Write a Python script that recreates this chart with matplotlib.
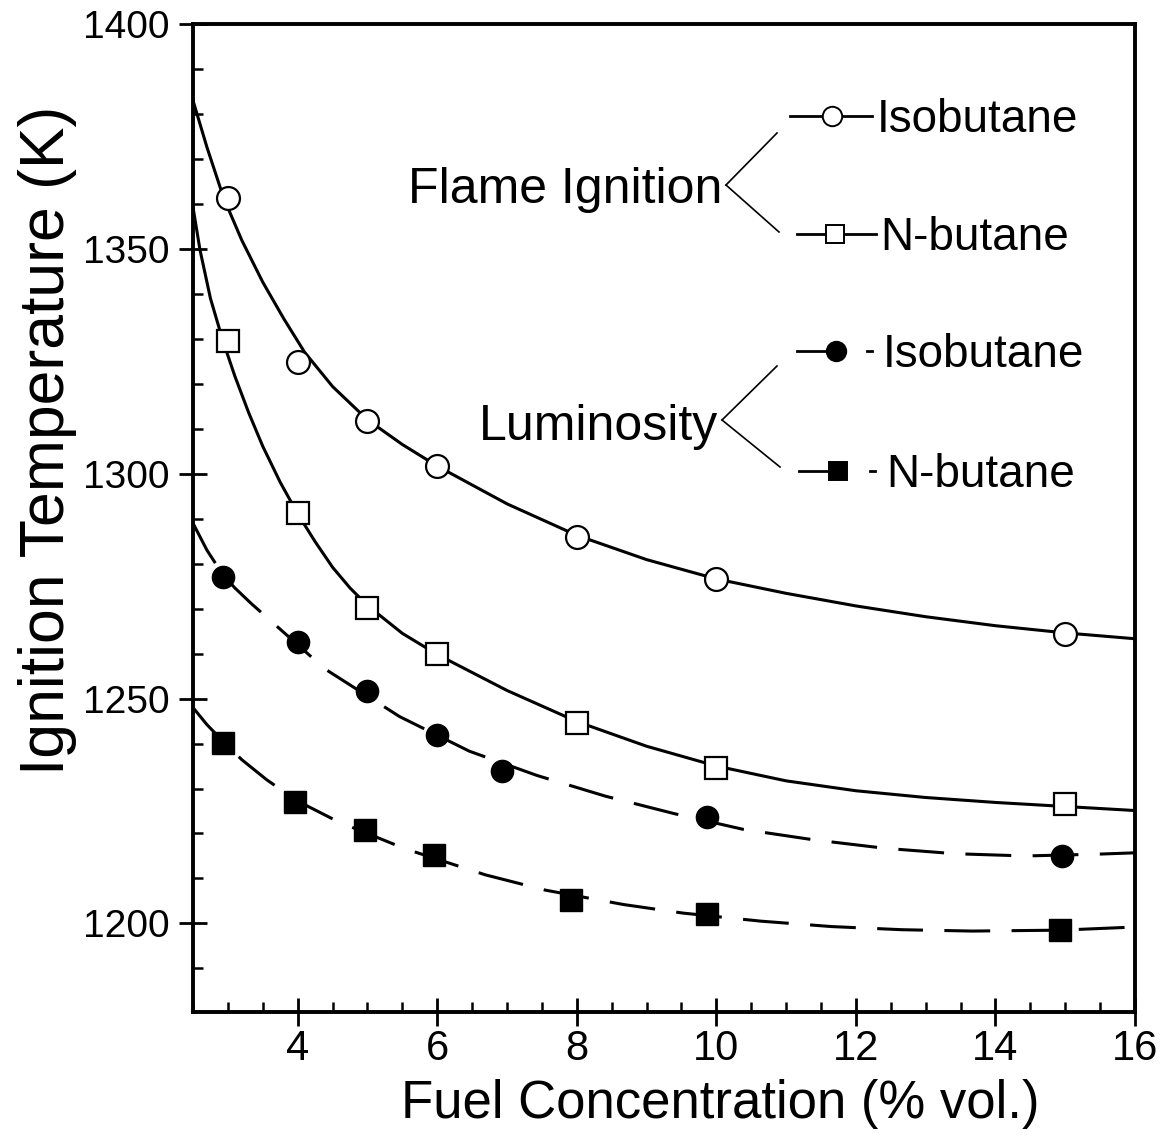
import matplotlib
matplotlib.use("Agg")
import matplotlib.pyplot as plt
from matplotlib.lines import Line2D
from matplotlib.ticker import MultipleLocator

plt.rcParams['font.family'] = ['Liberation Sans', 'DejaVu Sans']

# measured points
conc = [3, 4, 5, 6, 8, 10, 15]
flame_iso = [1361.3, 1324.8, 1311.8, 1301.7, 1286.0, 1276.6, 1264.3]
flame_nbut = [1329.5, 1291.3, 1270.1, 1259.8, 1244.5, 1234.5, 1226.6]
lum_iso_x = [2.93, 4, 5, 6, 6.93, 9.87, 14.95]
lum_iso = [1277.0, 1262.6, 1251.7, 1241.8, 1233.9, 1223.7, 1214.9]
lum_nbut_x = [2.93, 3.96, 4.96, 5.95, 7.92, 9.87, 14.93]
lum_nbut = [1240.1, 1227.1, 1220.7, 1215.2, 1205.2, 1202.0, 1198.5]

# fitted curves
fi_cx = [2.5, 2.7, 2.94, 3.2, 3.5, 3.8, 4.1, 4.5, 5.0, 5.5, 6.0, 7.0, 8.0,
         9.0, 10.0, 11.0, 12.0, 13.0, 14.0, 15.0, 16.0]
fi_cy = [1383, 1372.6, 1361.3, 1351.9, 1342.6, 1334.5, 1327, 1319.4, 1312,
         1306.5, 1301.7, 1293.3, 1286.3, 1280.9, 1276.6, 1273.4, 1270.6,
         1268.2, 1266.2, 1264.6, 1263.3]
fn_cx = [2.5, 2.6, 2.75, 2.93, 3.1, 3.3, 3.5, 3.75, 4.0, 4.25, 4.5, 4.75, 5.0,
         5.5, 6.0, 7.0, 8.0, 9.0, 10.0, 11.0, 12.0, 13.0, 14.0, 15.0, 16.0]
fn_cy = [1359.3, 1349.8, 1339.0, 1329.5, 1321.7, 1313.5, 1306.1, 1298.1,
         1291.1, 1284.9, 1279.2, 1274.6, 1270.7, 1264.5, 1259.8, 1251.8,
         1244.9, 1239.4, 1235.0, 1231.7, 1229.5, 1228.0, 1226.9, 1226.0, 1225.1]
li_cx = [2.5, 2.7, 2.93, 3.1, 3.33, 4.39, 5.46, 6.46, 7.43, 8.41, 9.4, 10.39,
         11.39, 12.42, 13.42, 14.43, 15.46, 16.0]
li_cy = [1289, 1283, 1277.5, 1274.6, 1271.2, 1256.6, 1246.0, 1238.3, 1232.9,
         1228.3, 1224.4, 1220.9, 1218.6, 1216.7, 1215.5, 1215.0, 1215.4, 1215.7]
ln_cx = [2.5, 2.7, 2.93, 3.2, 3.56, 4.0, 4.57, 5.54, 6.69, 7.55, 8.67, 9.52,
         10.64, 11.65, 12.66, 13.67, 14.93, 16.0]
ln_cy = [1248, 1244.2, 1240.5, 1236.4, 1231.9, 1227.2, 1222.7, 1216.6, 1210.8,
         1207.4, 1204.2, 1202.3, 1200.5, 1199.3, 1198.6, 1198.3, 1198.5, 1199.2]

fig = plt.figure(figsize=(11.71, 11.43), dpi=100)
ax = fig.add_axes([0.1648, 0.1146, 0.8045, 0.8644])

lw = 2.2
dash = (0, (15, 7))
ax.plot(fi_cx, fi_cy, color='black', lw=lw)
ax.plot(fn_cx, fn_cy, color='black', lw=lw)
ax.plot(li_cx, li_cy, color='black', lw=lw, linestyle=dash)
ax.plot(ln_cx, ln_cy, color='black', lw=lw, linestyle=dash)

ax.plot(conc, flame_iso, 'o', ms=16.5, mfc='white', mec='black', mew=1.6, zorder=3)
ax.plot(conc, flame_nbut, 's', ms=16, mfc='white', mec='black', mew=1.6, zorder=3)
ax.plot(lum_iso_x, lum_iso, 'o', ms=16, mfc='black', mec='black', zorder=3)
ax.plot(lum_nbut_x, lum_nbut, 's', ms=15.5, mfc='black', mec='black', zorder=3)

ax.set_xlim(2.5, 16)
ax.set_ylim(1180.3, 1400)
ax.xaxis.set_minor_locator(MultipleLocator(0.5))
ax.yaxis.set_major_locator(MultipleLocator(50))
ax.yaxis.set_minor_locator(MultipleLocator(10))
ax.set_xticks([4, 6, 8, 10, 12, 14, 16])

for s in ax.spines.values():
    s.set_linewidth(2.8)
ax.tick_params(which='major', direction='inout', length=20, width=2)
ax.tick_params(which='minor', direction='in', length=7, width=1.8)
ax.tick_params(axis='y', which='major', labelsize=28, pad=7)
ax.tick_params(axis='x', which='major', labelsize=30, pad=2)

ax.set_xlabel('Fuel Concentration (% vol.)', fontsize=38)
ax.xaxis.set_label_coords(0.56, -0.0674)
ax.set_ylabel('Ignition Temperature (K)', fontsize=45)
ax.yaxis.set_label_coords(-0.123, 0.579)

# annotation legend, figure pixel positions converted to fractions
W, H = 1171.0, 1143.0


def fx(p):
    return p / W


def fy(p):
    return 1 - p / H


fig.text(fx(722), fy(203), 'Flame Ignition', fontsize=36, ha='right', va='baseline')
fig.text(fx(718), fy(440), 'Luminosity', fontsize=36, ha='right', va='baseline')

brackets = [((726, 185), (777, 133)), ((726, 185), (779, 232)),
            ((722, 420), (777, 366)), ((722, 420), (780, 467))]
for (x0, y0), (x1, y1) in brackets:
    fig.add_artist(Line2D([fx(x0), fx(x1)], [fy(y0), fy(y1)],
                          transform=fig.transFigure, color='black', lw=1.2))

rows = [
    ('Isobutane', 116, 790, 872, 832, 'o', 'white', 877),
    ('N-butane', 234, 797, 876, 835, 's', 'white', 880),
    ('Isobutane', 351, 797, 830, 836, 'o', 'black', 883),
    ('N-butane', 471, 799, 830, 838, 's', 'black', 886),
]
for i, (lab, y, l0, l1, mx, mk, fc, tx) in enumerate(rows):
    fig.add_artist(Line2D([fx(l0), fx(l1)], [fy(y), fy(y)],
                          transform=fig.transFigure, color='black', lw=2))
    if i >= 2:
        fig.add_artist(Line2D([fx(tx - 16), fx(tx - 11)], [fy(y), fy(y)],
                              transform=fig.transFigure, color='black', lw=2))
    fig.add_artist(Line2D([fx(mx)], [fy(y)], transform=fig.transFigure,
                          marker=mk, ms=14 if mk == 'o' else 13, mfc=fc,
                          mec='black', mew=1.4, linestyle='none'))
    fig.text(fx(tx), fy(y + 16), lab, fontsize=33, ha='left', va='baseline')

fig.savefig('out.png', dpi=100)
